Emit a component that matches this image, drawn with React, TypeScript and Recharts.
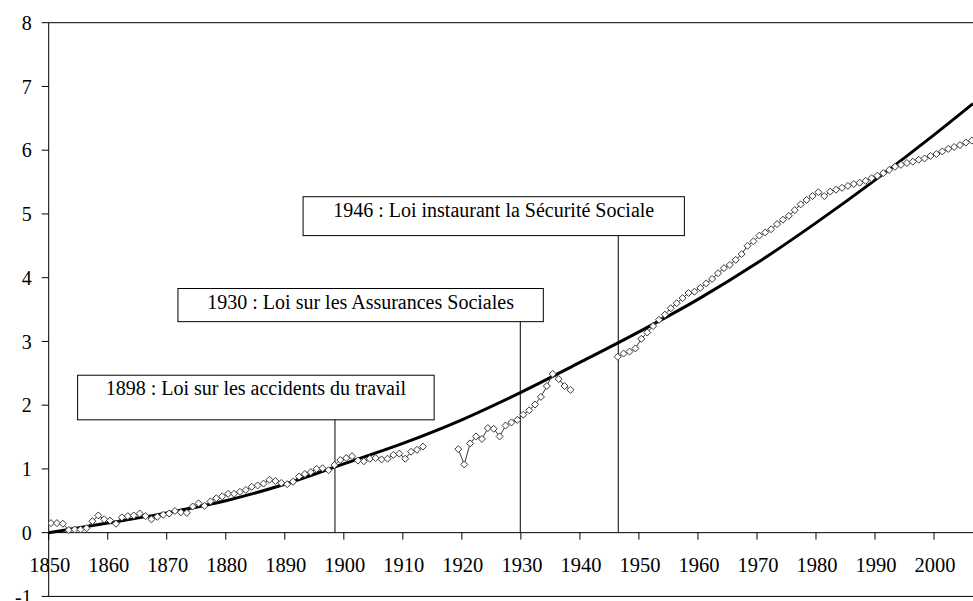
import React from 'react'
import { LineChart, Line, XAxis, YAxis, ReferenceLine, ReferenceArea } from 'recharts'

// indice (échelle log), une valeur par année
const VALUES_1850_1913 = [
  0.15, 0.15, 0.14, 0.04, 0.05, 0.05, 0.07, 0.18, 0.27, 0.21,
  0.19, 0.14, 0.24, 0.26, 0.27, 0.30, 0.26, 0.21, 0.25, 0.28,
  0.30, 0.34, 0.32, 0.31, 0.41, 0.46, 0.42, 0.49, 0.54, 0.57,
  0.61, 0.61, 0.64, 0.67, 0.72, 0.74, 0.77, 0.83, 0.81, 0.78,
  0.76, 0.80, 0.88, 0.92, 0.95, 1.00, 1.01, 0.98, 1.06, 1.14,
  1.17, 1.20, 1.13, 1.12, 1.16, 1.17, 1.15, 1.16, 1.22, 1.24,
  1.16, 1.27, 1.30, 1.35,
]
const VALUES_1919_1938 = [
  1.31, 1.07, 1.40, 1.51, 1.47, 1.64, 1.63, 1.51, 1.68, 1.73,
  1.77, 1.85, 1.92, 2.01, 2.13, 2.30, 2.49, 2.41, 2.30, 2.24,
]
const VALUES_1946_2006 = [
  2.76, 2.81, 2.84, 2.89, 3.04, 3.14, 3.24, 3.34, 3.42, 3.52,
  3.60, 3.68, 3.76, 3.78, 3.84, 3.91, 3.98, 4.07, 4.15, 4.20,
  4.28, 4.37, 4.50, 4.57, 4.66, 4.71, 4.76, 4.84, 4.91, 4.97,
  5.06, 5.15, 5.22, 5.28, 5.34, 5.28, 5.35, 5.38, 5.41, 5.44,
  5.47, 5.49, 5.52, 5.56, 5.60, 5.64, 5.69, 5.74, 5.77, 5.80,
  5.82, 5.85, 5.87, 5.91, 5.94, 5.98, 6.02, 6.05, 6.08, 6.12,
  6.15,
]
const PERIOD_STARTS = [1850, 1919, 1946]

// courbe de tendance
const TREND_YEARS = [1850, 1860, 1870, 1880, 1890, 1900, 1910, 1920, 1930, 1940, 1950, 1960, 1970, 1980, 1990, 2000, 2006.6]
const TREND_VALUES = [0.0, 0.15, 0.31, 0.5, 0.76, 1.08, 1.4, 1.77, 2.2, 2.67, 3.15, 3.66, 4.23, 4.86, 5.53, 6.24, 6.73]

const X_TICKS = [1850, 1860, 1870, 1880, 1890, 1900, 1910, 1920, 1930, 1940, 1950, 1960, 1970, 1980, 1990, 2000]
const Y_TICKS = [-1, 0, 1, 2, 3, 4, 5, 6, 7, 8]

const EVENT_LABELS = [
  '1898 : Loi sur les accidents du travail',
  '1930 : Loi sur les Assurances Sociales',
  '1946 : Loi instaurant la Sécurité Sociale',
]

// position des encadrés (unités des axes)
const BOXES = [
  { x1: 1854.9, x2: 1915.3, y1: 1.77, y2: 2.47, lineX: 1898.5 },
  { x1: 1871.9, x2: 1933.8, y1: 3.31, y2: 3.83, lineX: 1929.9 },
  { x1: 1893.1, x2: 1957.7, y1: 4.66, y2: 5.27, lineX: 1946.5 },
]

const W = 973
const H = 601
const PLOT_TOP = 22.7
const PLOT_BOTTOM = 596.4
const Y_AXIS_W = 48.7
const X_AXIS_H = 1
const ZERO_Y = PLOT_BOTTOM - (PLOT_BOTTOM - PLOT_TOP) / 9
const PT_SHIFT = 0.4
const FONT = '"Liberation Serif", "Times New Roman", serif'

const periods = [VALUES_1850_1913, VALUES_1919_1938, VALUES_1946_2006]
const seriesRows: { x: number; v: number | null }[] = []
periods.forEach((vals, i) => {
  vals.forEach((v, j) => seriesRows.push({ x: PERIOD_STARTS[i] + j + PT_SHIFT, v }))
  if (i < periods.length - 1) seriesRows.push({ x: PERIOD_STARTS[i] + vals.length + PT_SHIFT, v: null })
})

const trendRows = TREND_YEARS.map((x, i) => ({ x, trend: TREND_VALUES[i] }))

const renderDiamond = (props: any) => {
  const { cx, cy, index, value } = props
  if (cx == null || cy == null || value == null) return <g key={`d-${index}`} />
  const r = 3.5
  return (
    <path
      key={`d-${index}`}
      d={`M${cx},${cy - r}L${cx + r},${cy}L${cx},${cy + r}L${cx - r},${cy}Z`}
      fill="#fff"
      stroke="#3a3a3a"
      strokeWidth={1}
    />
  )
}

const renderXTick = (props: any) => {
  const { x, payload, index } = props
  return (
    <g key={`xt-${index}`}>
      <line x1={x} x2={x} y1={ZERO_Y} y2={ZERO_Y + 7} stroke="#000" />
      <text x={x + 1} y={ZERO_Y + 39} textAnchor="middle" fontSize={20.5} fontFamily={FONT} fill="#000">
        {payload.value}
      </text>
    </g>
  )
}

const boxShape = (label: string) => (props: any) => {
  const { x, y, width, height } = props
  return (
    <g>
      <rect x={x} y={y} width={width} height={height} fill="#fff" stroke="#000" strokeWidth={1} />
      <text x={x + width / 2} y={y + 20} textAnchor="middle" fontSize={20} fontFamily={FONT} fill="#000">
        {label}
      </text>
    </g>
  )
}

export default function App() {
  return (
    <div style={{ position: 'absolute', left: 0, top: 0, width: W, height: H, background: '#fff' }}>
      <LineChart
        width={W}
        height={H}
        margin={{ top: PLOT_TOP, right: 0, bottom: H - PLOT_BOTTOM - X_AXIS_H, left: 0 }}
      >
        <XAxis
          type="number"
          dataKey="x"
          domain={[1850, 2006.6]}
          allowDataOverflow
          ticks={X_TICKS}
          interval={0}
          height={X_AXIS_H}
          tickLine={false}
          axisLine={{ stroke: '#000' }}
          tick={renderXTick}
        />
        <YAxis
          type="number"
          domain={[-1, 8]}
          ticks={Y_TICKS}
          interval={0}
          width={Y_AXIS_W}
          tickSize={7}
          tickMargin={10}
          axisLine={{ stroke: '#000' }}
          tickLine={{ stroke: '#000' }}
          tick={{ fill: '#000', fontSize: 20, fontFamily: FONT }}
        />
        <ReferenceLine y={8} stroke="#000" />
        <ReferenceLine y={0} stroke="#000" />
        {BOXES.map((b, i) => (
          <ReferenceLine
            key={`l-${i}`}
            segment={[{ x: b.lineX, y: b.y1 }, { x: b.lineX, y: 0 }]}
            stroke="#000"
          />
        ))}
        <Line
          data={trendRows}
          dataKey="trend"
          type="monotone"
          stroke="#000"
          strokeWidth={3}
          dot={false}
          isAnimationActive={false}
        />
        <Line
          data={seriesRows}
          dataKey="v"
          type="linear"
          stroke="#3a3a3a"
          strokeWidth={1}
          dot={renderDiamond}
          connectNulls={false}
          isAnimationActive={false}
        />
        {BOXES.map((b, i) => (
          <ReferenceArea
            key={`b-${i}`}
            x1={b.x1}
            x2={b.x2}
            y1={b.y1}
            y2={b.y2}
            shape={boxShape(EVENT_LABELS[i])}
          />
        ))}
      </LineChart>
    </div>
  )
}
